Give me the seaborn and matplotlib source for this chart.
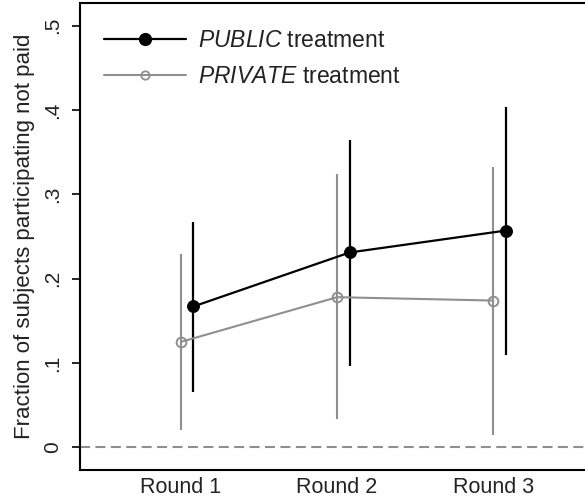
import numpy as np
import pandas as pd
import matplotlib
matplotlib.use("Agg")
import matplotlib.pyplot as plt
from matplotlib.lines import Line2D
import seaborn as sns

# data
rounds = [1, 2, 3]
round_labels = ["Round 1", "Round 2", "Round 3"]
public_mean = [0.167, 0.231, 0.257]
public_lo = [0.066, 0.096, 0.110]
public_hi = [0.267, 0.365, 0.404]
private_mean = [0.125, 0.178, 0.174]
private_lo = [0.020, 0.033, 0.015]
private_hi = [0.229, 0.324, 0.333]
ytick_vals = [0, 0.1, 0.2, 0.3, 0.4, 0.5]
ytick_labels = ["0", ".1", ".2", ".3", ".4", ".5"]

sns.set_theme(style="white")
plt.rcParams["font.family"] = ["Liberation Sans", "DejaVu Sans"]
plt.rcParams["mathtext.fontset"] = "custom"
plt.rcParams["mathtext.it"] = "Liberation Sans:italic"
plt.rcParams["mathtext.rm"] = "Liberation Sans"

black = "#000000"
grey = "#8f8f8f"
txt = "#222222"
shift = 0.08

df = pd.DataFrame({
    "x": [r + shift for r in rounds] + list(rounds),
    "y": public_mean + private_mean,
    "group": ["public"] * 3 + ["private"] * 3,
})

fig = plt.figure(figsize=(5.85, 5.04), dpi=100)
ax = fig.add_axes([80 / 585, 1 - 470 / 504, 1 - 80 / 585, (470 - 3.3) / 504])

ax.axhline(0, color=grey, lw=1.5, ls=(0, (4.8, 2.6)), zorder=1)

# confidence intervals
ax.vlines(rounds, private_lo, private_hi, color=grey, lw=1.5, zorder=2)
ax.vlines([r + shift for r in rounds], public_lo, public_hi, color=black, lw=1.6, zorder=3)

sns.lineplot(data=df[df.group == "private"], x="x", y="y", ax=ax, color=grey, lw=1.5,
             marker="o", markersize=7, markerfacecolor="none", markeredgecolor=grey,
             markeredgewidth=1.4, zorder=4, legend=False)
sns.lineplot(data=df[df.group == "public"], x="x", y="y", ax=ax, color=black, lw=1.6,
             marker="o", markersize=8.5, markerfacecolor=black, markeredgecolor=black,
             zorder=5, legend=False)

ax.set_xlim(0.353, 3.588)
ax.set_ylim(-0.027, 0.5266)
ax.set_xticks(rounds)
ax.set_xticklabels(round_labels, fontsize=15.5, color=txt)
ax.set_yticks(ytick_vals)
ax.set_yticklabels(ytick_labels, rotation=90, va="center", fontsize=15, color=txt)
ax.tick_params(axis="x", length=0, pad=5)
ax.tick_params(axis="y", length=6, width=1.2, direction="out", pad=7, color=black, left=True)
ax.set_xlabel("")
ax.set_ylabel("Fraction of subjects participating not paid", fontsize=16, color=txt, labelpad=6)

for side in ["left", "bottom", "top"]:
    ax.spines[side].set_color(black)
    ax.spines[side].set_linewidth(1.5)
ax.spines["right"].set_visible(False)

handles = [
    Line2D([], [], color=black, lw=1.6, marker="o", markersize=8.5, markerfacecolor=black),
    Line2D([], [], color=grey, lw=1.5, marker="o", markersize=6, markerfacecolor="none",
           markeredgecolor=grey, markeredgewidth=1.3),
]
labels = [r"$\it{PUBLIC}$ treatment", r"$\it{PRIVATE}$ treatment"]
ax.legend(handles, labels, loc="upper left", bbox_to_anchor=(0.0475, 0.944), frameon=False,
          borderpad=0, borderaxespad=0, fontsize=16.5, handlelength=3.6, handletextpad=0.5,
          labelspacing=0.54, labelcolor=txt)

fig.savefig("out.png", dpi=100)
